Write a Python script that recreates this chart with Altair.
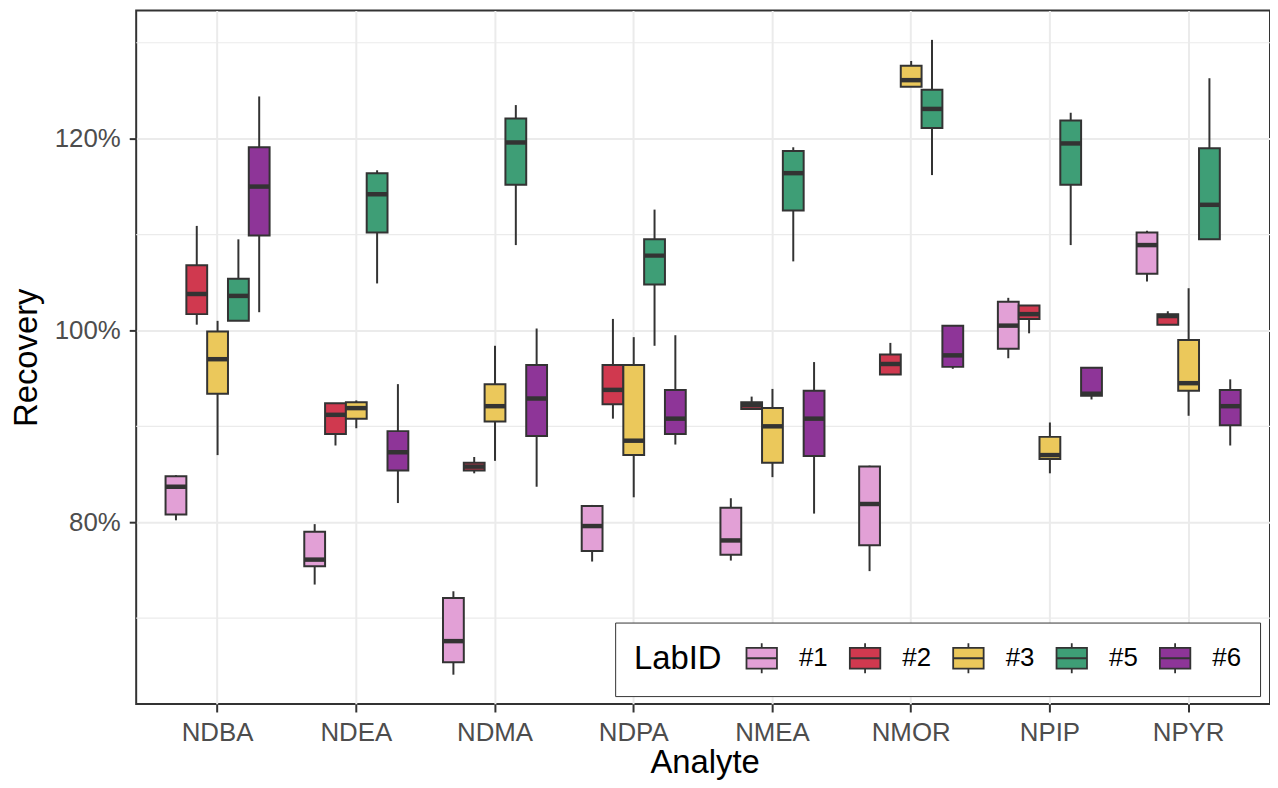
import altair as alt
import pandas as pd

analytes = ["NDBA", "NDEA", "NDMA", "NDPA", "NMEA", "NMOR", "NPIP", "NPYR"]
labs = ["#1", "#2", "#3", "#5", "#6"]
lab_colors = ["#E2A0D6", "#D0394F", "#EBC85B", "#3E9E76", "#8E3598"]

# rows = analytes, columns = labs (#1, #2, #3, #5, #6); values in %
whisker_low = [
    [80.2, 100.6, 87.0, 101.0, 101.9],
    [73.5, 88.0, 89.8, 104.9, 82.0],
    [64.1, 85.1, 86.4, 108.9, 83.7],
    [75.9, 90.8, 82.6, 98.4, 88.1],
    [76.0, 91.8, 84.7, 107.2, 80.9],
    [74.9, 95.4, 125.4, 116.2, 96.0],
    [97.1, 99.7, 85.1, 108.9, 92.8],
    [105.1, 100.6, 91.1, 109.5, 88.0],
]
quart_1 = [
    [80.8, 101.7, 93.4, 101.0, 109.9],
    [75.4, 89.2, 90.8, 110.2, 85.4],
    [65.4, 85.4, 90.5, 115.2, 89.0],
    [77.0, 92.3, 87.0, 104.8, 89.2],
    [76.6, 91.8, 86.2, 112.5, 86.9],
    [77.6, 95.4, 125.4, 121.1, 96.2],
    [98.1, 101.2, 86.6, 115.2, 93.2],
    [105.9, 100.6, 93.7, 109.5, 90.1],
]
medians = [
    [83.7, 103.8, 97.0, 103.6, 115.0],
    [76.1, 91.2, 91.9, 114.2, 87.3],
    [67.6, 85.8, 92.1, 119.6, 92.9],
    [79.6, 93.8, 88.5, 107.8, 90.8],
    [78.1, 92.2, 90.0, 116.4, 90.8],
    [81.9, 96.5, 126.1, 123.1, 97.4],
    [100.5, 101.7, 87.0, 119.5, 93.4],
    [108.9, 101.5, 94.5, 113.1, 92.1],
]
quart_3 = [
    [84.8, 106.8, 99.9, 105.4, 119.1],
    [79.0, 92.4, 92.5, 116.4, 89.5],
    [72.1, 86.2, 94.4, 122.1, 96.4],
    [81.7, 96.4, 96.4, 109.5, 93.8],
    [81.5, 92.5, 91.9, 118.7, 93.7],
    [85.8, 97.5, 127.6, 125.1, 100.5],
    [103.0, 102.6, 88.9, 121.9, 96.1],
    [110.2, 101.7, 99.0, 119.0, 93.8],
]
whisker_high = [
    [84.9, 110.9, 101.0, 109.5, 124.4],
    [79.8, 92.4, 92.7, 116.7, 94.4],
    [72.8, 86.8, 98.4, 123.5, 100.2],
    [81.8, 101.2, 99.3, 112.6, 99.5],
    [82.5, 93.1, 93.9, 119.1, 96.7],
    [85.9, 98.7, 128.1, 130.3, 100.5],
    [103.4, 102.6, 90.4, 122.7, 96.1],
    [110.4, 102.0, 104.4, 126.3, 94.9],
]

major_breaks = [80, 100, 120]
minor_breaks = [70, 90, 110, 130]

rows = []
for i, a in enumerate(analytes):
    for j, lab in enumerate(labs):
        rows.append({
            "Analyte": a, "LabID": lab,
            "lo": whisker_low[i][j], "q1": quart_1[i][j], "med": medians[i][j],
            "q3": quart_3[i][j], "hi": whisker_high[i][j],
        })
df = pd.DataFrame(rows)

FONT = "Liberation Sans"
DARK = "#333333"
GRID = "#EBEBEB"

y_scale = alt.Scale(domain=[61.04, 133.37], nice=False, zero=False)
y_axis = alt.Axis(
    values=major_breaks, labelExpr="datum.value + '%'", title="Recovery",
    labelFontSize=26, labelColor="#4D4D4D", labelPadding=9, labelFont=FONT,
    tickSize=7, tickColor=DARK, tickWidth=2, domain=False,
    grid=True, gridColor=GRID, gridWidth=2,
    titleFontSize=33, titleFont=FONT, titleColor="black", titleFontWeight="normal",
    titleX=-100, titleY=349, titleBaseline="alphabetic", titleAngle=270, titleAlign="center",
)
x_axis = alt.Axis(
    title="Analyte", labelAngle=0, labelFontSize=26, labelColor="#4D4D4D", labelFont=FONT,
    labelPadding=8, tickSize=8, tickColor=DARK, tickWidth=2, domain=False,
    grid=True, gridColor=GRID, gridWidth=2, bandPosition=0.5,
    titleFontSize=33, titleFont=FONT, titleColor="black", titleFontWeight="normal",
    titleX=572, titleY=69, titleBaseline="alphabetic", titleAlign="center",
)
x_enc = alt.X("Analyte:N", sort=analytes,
              scale=alt.Scale(domain=analytes, paddingInner=0, paddingOuter=0.0867),
              axis=x_axis)
xo_enc = alt.XOffset("LabID:N", sort=labs,
                     scale=alt.Scale(domain=labs, paddingInner=0, paddingOuter=0.8333))

legend_symbol = "M-1,-0.684H1V0.684H-1Z M-1,0H1 M0,-0.684V-0.98 M0,0.684V0.98"

minor = alt.Chart(pd.DataFrame({"v": minor_breaks})).mark_rule(
    color=GRID, strokeWidth=1.2
).encode(y=alt.Y("v:Q", scale=y_scale, axis=y_axis))

base = alt.Chart(df)

whiskers = base.mark_rule(color=DARK, strokeWidth=2).encode(
    x=x_enc, xOffset=xo_enc,
    y=alt.Y("lo:Q", scale=y_scale, axis=y_axis), y2="hi:Q",
)
boxes = base.mark_bar(stroke=DARK, strokeWidth=2, opacity=1).encode(
    x=x_enc, xOffset=xo_enc,
    y=alt.Y("q1:Q", scale=y_scale, axis=y_axis), y2="q3:Q",
    fill=alt.Fill("LabID:N", sort=labs,
                  scale=alt.Scale(domain=labs, range=lab_colors),
                  legend=alt.Legend(
                      title="LabID", orient="none", legendX=482, legendY=616,
                      direction="horizontal", titleOrient="left",
                      titleAnchor="middle", titleBaseline="middle",
                      titleFontSize=33, titleFont=FONT, titleColor="black",
                      titleFontWeight="normal", titlePadding=23,
                      labelFontSize=26, labelFont=FONT, labelColor="black",
                      labelOffset=21, columnPadding=18,
                      symbolType=legend_symbol, symbolSize=940,
                      symbolStrokeColor=DARK, symbolStrokeWidth=1.8,
                      symbolOpacity=1,
                      padding=19, fillColor="white", strokeColor=DARK,
                  )),
)
meds = base.mark_tick(color=DARK, thickness=4.5, size=20.9, opacity=1).encode(
    x=x_enc, xOffset=xo_enc,
    y=alt.Y("med:Q", scale=y_scale, axis=y_axis),
)

chart = alt.layer(minor, whiskers, boxes, meds).properties(
    width=1141, height=698,
    autosize=alt.AutoSizeParams(type="none"),
    padding={"left": 129, "top": 0, "right": 0, "bottom": 74},
    background="white",
).configure_view(stroke=DARK, strokeWidth=2, fill="white")

chart.save("out.html", embed_options={"renderer": "svg", "actions": False})
